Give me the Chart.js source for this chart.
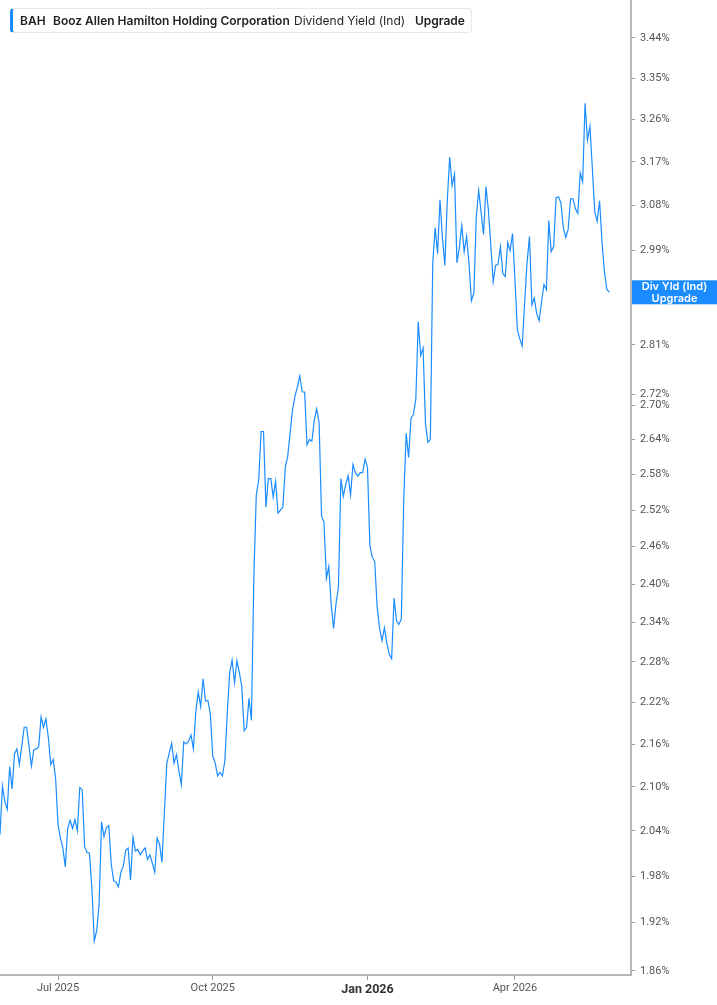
<!DOCTYPE html>
<html>
<head>
<meta charset="utf-8">
<script src="https://cdn.jsdelivr.net/npm/chart.js@4.4.1/dist/chart.umd.min.js"></script>
<style>
  html, body { margin: 0; padding: 0; background: #fff; }
  #wrap { position: relative; width: 717px; height: 1005px; }
  #header {
    position: absolute; left: 10px; top: 8px; width: 458px; height: 23px;
    border: 1px solid #e8e8e8; border-left: 3px solid #1a8cff; border-radius: 4px;
    background: #fff; font-family: Inter, Roboto, sans-serif; font-size: 12px;
    color: #1f1f1f; line-height: 23px; white-space: nowrap;
  }
  #header span { position: absolute; top: 0; }
  .b { font-weight: 600; }
</style>
</head>
<body>
<div id="wrap">
  <canvas id="chart" width="717" height="1005"></canvas>
  <div id="header">
    <span class="b" style="left:7px">BAH</span>
    <span class="b" style="left:40px">Booz Allen Hamilton Holding Corporation</span>
    <span style="left:281px">Dividend Yield (Ind)</span>
    <span class="b" style="left:402px">Upgrade</span>
  </div>
</div>
<script>
// daily dividend yield (%), one value per trading day from 2025-05-27
const values = [
  2.035, 2.101, 2.080, 2.069, 2.128, 2.097, 2.146, 2.153, 2.131, 2.157,
  2.184, 2.184, 2.157, 2.129, 2.152, 2.153, 2.156, 2.199, 2.184, 2.196,
  2.169, 2.131, 2.138, 2.112, 2.048, 2.030, 2.017, 1.992, 2.043, 2.054,
  2.043, 2.055, 2.040, 2.099, 2.096, 2.019, 2.011, 2.010, 1.965, 1.897,
  1.910, 1.944, 2.052, 2.032, 2.044, 2.047, 1.996, 1.974, 1.972, 1.966,
  1.985, 1.993, 2.014, 2.017, 1.975, 2.031, 2.013, 2.015, 2.008, 2.013,
  2.017, 2.002, 2.008, 1.997, 1.985, 2.030, 2.022, 1.998, 2.066, 2.133,
  2.147, 2.161, 2.133, 2.145, 2.122, 2.103, 2.163, 2.160, 2.164, 2.173,
  2.153, 2.207, 2.235, 2.214, 2.255, 2.222, 2.223, 2.203, 2.143, 2.133,
  2.115, 2.120, 2.115, 2.136, 2.204, 2.264, 2.283, 2.249, 2.282, 2.264,
  2.244, 2.179, 2.184, 2.226, 2.194, 2.411, 2.545, 2.570, 2.654, 2.654,
  2.525, 2.573, 2.573, 2.542, 2.568, 2.515, 2.520, 2.525, 2.592, 2.611,
  2.652, 2.692, 2.716, 2.733, 2.753, 2.724, 2.724, 2.631, 2.640, 2.637,
  2.674, 2.694, 2.669, 2.510, 2.500, 2.409, 2.428, 2.367, 2.331, 2.370,
  2.395, 2.573, 2.543, 2.563, 2.578, 2.545, 2.597, 2.583, 2.577, 2.583,
  2.583, 2.606, 2.592, 2.462, 2.443, 2.436, 2.364, 2.331, 2.312, 2.332,
  2.309, 2.292, 2.285, 2.378, 2.343, 2.337, 2.346, 2.537, 2.651, 2.609,
  2.677, 2.684, 2.711, 2.853, 2.790, 2.804, 2.667, 2.635, 2.640, 2.966,
  3.036, 2.984, 3.092, 3.016, 2.961, 3.090, 3.180, 3.121, 3.145, 2.966,
  2.996, 3.040, 2.988, 3.018, 2.964, 2.893, 2.908, 3.058, 3.111, 3.066,
  3.022, 3.119, 3.072, 3.002, 2.929, 2.961, 2.963, 2.998, 2.945, 2.939,
  3.006, 2.990, 3.024, 2.933, 2.838, 2.821, 2.808, 2.889, 2.966, 3.018,
  2.885, 2.898, 2.868, 2.855, 2.891, 2.924, 2.914, 3.050, 2.988, 2.998,
  3.096, 3.098, 3.086, 3.036, 3.016, 3.032, 3.094, 3.094, 3.074, 3.064,
  3.147, 3.129, 3.295, 3.216, 3.245, 3.158, 3.068, 3.048, 3.090, 3.008,
  2.949, 2.915, 2.909
];

const startDate = '2025-05-27';
const holidays = ['2025-06-19', '2025-07-04', '2025-09-01', '2025-11-27', '2025-12-25',
                  '2026-01-01', '2026-01-19', '2026-02-16', '2026-04-03', '2026-05-25'];
const emptyDaysAfter = 9;   // empty trading days right of the last value

const yTicks = [1.86, 1.92, 1.98, 2.04, 2.10, 2.16, 2.22, 2.28, 2.34, 2.40, 2.46, 2.52,
                2.58, 2.64, 2.70, 2.72, 2.81, 2.90, 2.99, 3.08, 3.17, 3.26, 3.35, 3.44];
const yMin = 1.855, yMax = 3.527;

const xTickMonths = ['2025-07', '2025-10', '2026-01', '2026-04'];
const monthNames = ['Jan', 'Feb', 'Mar', 'Apr', 'May', 'Jun', 'Jul', 'Aug', 'Sep', 'Oct', 'Nov', 'Dec'];

const seriesLabel = ['Div Yld (Ind)', 'Upgrade'];
const lineColor = '#1a8cff';

function tradingDays(start, count) {
  let out = [];
  let d = new Date(start + 'T00:00:00Z');
  while (out.length < count) {
    let iso = d.toISOString().slice(0, 10);
    let wd = d.getUTCDay();
    if (wd !== 0 && wd !== 6 && !holidays.includes(iso)) out.push(iso);
    d.setUTCDate(d.getUTCDate() + 1);
  }
  return out;
}

const dates = tradingDays(startDate, values.length + emptyDaysAfter);
const xTickIdx = xTickMonths.map(m => dates.findIndex(d => d.startsWith(m)));

function monthLabel(iso) {
  return monthNames[parseInt(iso.slice(5, 7), 10) - 1] + ' ' + iso.slice(0, 4);
}

const lastLabel = {
  id: 'lastLabel',
  afterDraw(chart) {
    let ctx = chart.ctx;
    let y = chart.scales.y.getPixelForValue(values[values.length - 1]);
    let left = chart.chartArea.right + 1;
    let w = chart.width - left;
    ctx.save();
    ctx.fillStyle = lineColor;
    ctx.fillRect(left, y - 12, w, 24);
    ctx.fillStyle = '#fff';
    ctx.font = '600 11px Inter, Roboto, sans-serif';
    ctx.textAlign = 'center';
    ctx.textBaseline = 'middle';
    ctx.fillText(seriesLabel[0], left + w / 2, y - 6);
    ctx.fillText(seriesLabel[1], left + w / 2, y + 6);
    ctx.restore();
  }
};

new Chart(document.getElementById('chart'), {
  type: 'line',
  data: {
    labels: dates,
    datasets: [{
      data: values,
      borderColor: lineColor,
      borderWidth: 1.2,
      pointRadius: 0,
      fill: false,
      tension: 0
    }]
  },
  options: {
    responsive: false,
    animation: false,
    layout: { padding: 0 },
    plugins: { legend: { display: false }, tooltip: { enabled: false } },
    scales: {
      x: {
        type: 'category',
        offset: false,
        afterBuildTicks(scale) {
          scale.ticks = xTickIdx.map(i => ({ value: i }));
        },
        afterFit(scale) {
          scale.height = 30;
          scale.paddingLeft = 0;
          scale.paddingRight = 0;
        },
        grid: { drawOnChartArea: false, drawTicks: true, tickLength: 5, color: '#9a9a9a' },
        border: { display: true, color: '#b8b8b8', width: 2 },
        ticks: {
          autoSkip: false,
          maxRotation: 0,
          padding: 2,
          color: ctx => ctx.tick && dates[ctx.tick.value].startsWith('2026-01') ? '#333' : '#555',
          font: ctx => ctx.tick && dates[ctx.tick.value].startsWith('2026-01')
            ? { family: 'Roboto, sans-serif', size: 12.5, weight: 'bold' }
            : { family: 'Roboto, sans-serif', size: 11 },
          callback(value) { return monthLabel(dates[value]); }
        }
      },
      y: {
        type: 'logarithmic',
        position: 'right',
        min: yMin,
        max: yMax,
        afterBuildTicks(scale) {
          scale.ticks = yTicks.map(v => ({ value: v }));
        },
        afterFit(scale) {
          scale.width = 86;
          scale.paddingTop = 0;
          scale.paddingBottom = 0;
        },
        grid: { drawOnChartArea: false, drawTicks: true, tickLength: 4, color: '#9a9a9a' },
        border: { display: true, color: '#b8b8b8', width: 2 },
        ticks: {
          padding: 5,
          color: '#555',
          font: { family: 'Roboto, sans-serif', size: 11 },
          callback(value) { return Number(value).toFixed(2) + '%'; }
        }
      }
    }
  },
  plugins: [lastLabel]
});
</script>
</body>
</html>
